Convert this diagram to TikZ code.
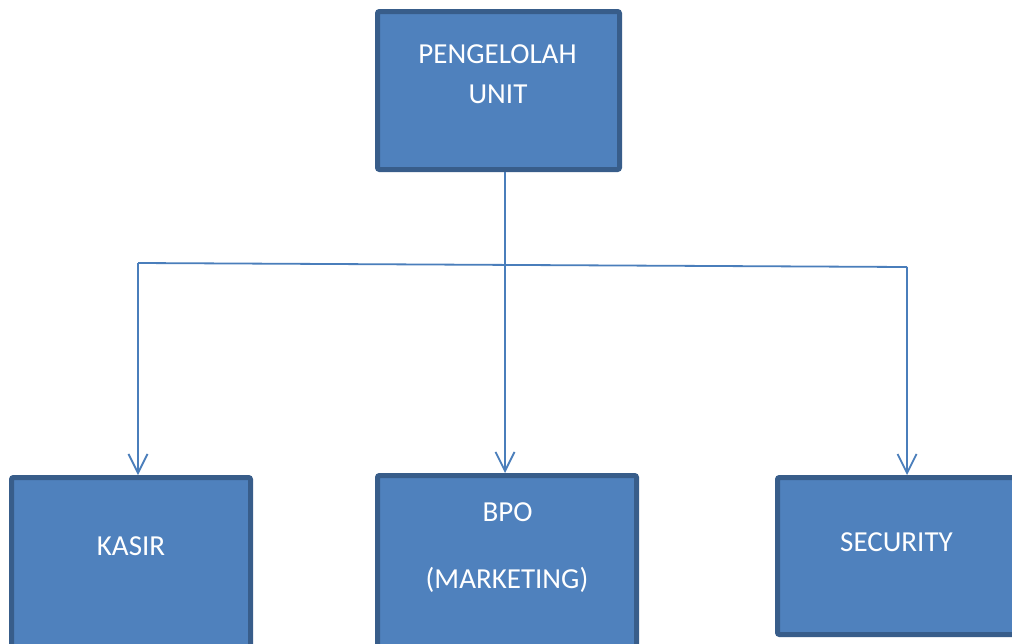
\documentclass[tikz,border=0pt]{standalone}
\usepackage{fontspec}
\setmainfont{Carlito}
\usetikzlibrary{arrows.meta}
\definecolor{boxfill}{HTML}{4F81BD}
\definecolor{boxline}{HTML}{385D8A}
\definecolor{conn}{HTML}{4A7EBB}
\tikzset{
  orgbox/.style={draw=boxline, fill=boxfill, line width=5pt, rounded corners=2pt, inner sep=0pt, rectangle},
  lbl/.style={text=white, font=\fontsize{29}{34}\selectfont, anchor=base, inner sep=0pt},
  link/.style={draw=conn, line width=1.8pt},
  arr/.style={link, -{Straight Barb[length=19pt,width=19pt]}}
}
\begin{document}
\begin{tikzpicture}[x=1pt,y=-1pt]
\clip (0,0) rectangle (1012,643);
\fill[white] (0,0) rectangle (1012,643);
% boxes
\node[orgbox, minimum width=242pt, minimum height=158pt] (top) at (498.5,90.5) {};
\node[orgbox, minimum width=239pt, minimum height=200pt] (kasir) at (131,577.5) {};
\node[orgbox, minimum width=259pt, minimum height=200pt] (bpo) at (507,575.5) {};
\node[orgbox, minimum width=259pt, minimum height=157pt] (sec) at (907,556) {};
% labels
\node[lbl] (t1) at (497.5,63) {PENGELOLAH};
\node[lbl] (t2) at (498,103) {UNIT};
\node[lbl] (k1) at (131,555) {KASIR};
\node[lbl] (b1) at (507.5,521) {BPO};
\node[lbl] (b2) at (507,588) {(MARKETING)};
\node[lbl] (s1) at (896.5,551) {SECURITY};
% connectors
\coordinate (hl) at (138,263);
\coordinate (hr) at (907,267);
\coordinate (vt) at (505,0);
\draw[link] (hl) -- (hr);
\draw[arr] (top.south -| vt) -- (bpo.north -| vt);
\draw[arr] (hl) -- (kasir.north -| hl);
\draw[arr] (hr) -- (sec.north -| hr);
\end{tikzpicture}
\end{document}
